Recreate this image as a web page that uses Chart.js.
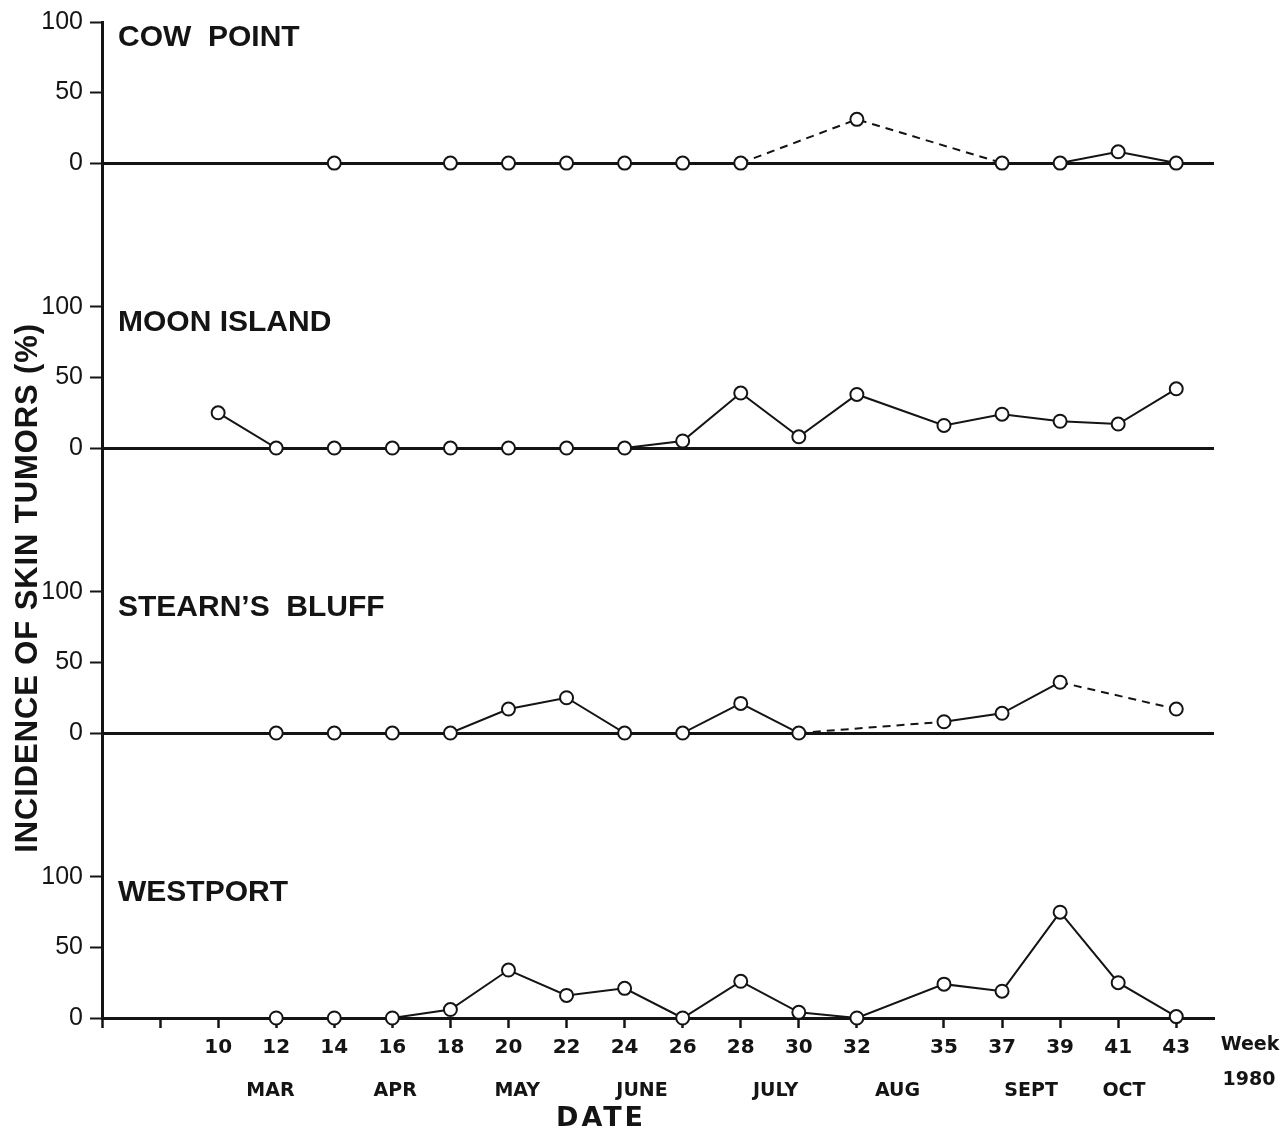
<!DOCTYPE html>
<html>
<head>
<meta charset="utf-8">
<title>Incidence of skin tumors, 1980</title>
<script src="https://cdn.jsdelivr.net/npm/chart.js@4.4.0/dist/chart.umd.min.js"></script>
<style>
  html, body { margin: 0; padding: 0; background: #fff; }
  #wrap { width: 1287px; height: 1133px; position: relative; }
</style>
</head>
<body>
<div id="wrap"><canvas id="chart"></canvas></div>
<script>
// Axis ticks (weeks 6 and 8 carry no label)
const weekTicks = [6, 8, 10, 12, 14, 16, 18, 20, 22, 24, 26, 28, 30, 32, 35, 37, 39, 41, 43];
const monthLabels = ['MAR', 'APR', 'MAY', 'JUNE', 'JULY', 'AUG', 'SEPT', 'OCT'];
const monthWeeks = [11.8, 16.1, 20.3, 24.6, 29.2, 33.4, 38.0, 41.2];
const yTicks = [0, 50, 100];

const panelNames = ['COW  POINT', 'MOON ISLAND', 'STEARN\u2019S  BLUFF', 'WESTPORT'];

// Incidence (%) per sampling week; *Dashed flags the segment starting at that point
const cowWeeks = [14, 18, 20, 22, 24, 26, 28, 32, 37, 39, 41, 43];
const cowValues = [0, 0, 0, 0, 0, 0, 0, 31, 0, 0, 8, 0];
const cowDashed = [0, 0, 0, 0, 0, 0, 1, 1, 0, 0, 0];

const moonWeeks = [10, 12, 14, 16, 18, 20, 22, 24, 26, 28, 30, 32, 35, 37, 39, 41, 43];
const moonValues = [25, 0, 0, 0, 0, 0, 0, 0, 5, 39, 8, 38, 16, 24, 19, 17, 42];
const moonDashed = [];

const stearnsWeeks = [12, 14, 16, 18, 20, 22, 24, 26, 28, 30, 35, 37, 39, 43];
const stearnsValues = [0, 0, 0, 0, 17, 25, 0, 0, 21, 0, 8, 14, 36, 17];
const stearnsDashed = [0, 0, 0, 0, 0, 0, 0, 0, 0, 1, 0, 0, 1];

const westWeeks = [12, 14, 16, 18, 20, 22, 24, 26, 28, 30, 32, 35, 37, 39, 41, 43];
const westValues = [0, 0, 0, 6, 34, 16, 21, 0, 26, 4, 0, 24, 19, 75, 25, 1];
const westDashed = [];

const INK = '#141414';
const panelIds = ['yCow', 'yMoon', 'yStearns', 'yWest'];
const weekMin = 6, weekMax = 44.3;

function makeDataset(weeks, values, dashed, axisId) {
    return {
        data: weeks.map((w, i) => ({ x: w, y: values[i] })),
        yAxisID: axisId,
        xAxisID: 'x',
        borderColor: INK,
        borderWidth: 2,
        tension: 0,
        fill: false,
        clip: false,
        pointRadius: 6.5,
        pointBorderWidth: 2,
        pointBackgroundColor: '#fff',
        pointBorderColor: INK,
        segment: {
            borderDash: ctx => dashed[ctx.p0DataIndex] ? [8, 6] : undefined
        }
    };
}

function panelAxis(min) {
    return {
        type: 'linear',
        position: 'left',
        stack: 'panels',
        stackWeight: 100 - min,
        min: min,
        max: 100,
        afterBuildTicks: s => { s.ticks = yTicks.map(v => ({ value: v })); },
        afterFit: s => { s.width = 102; },
        border: { color: INK, width: 3 },
        grid: {
            color: c => (c.tick && c.tick.value === 0) ? INK : 'rgba(0,0,0,0)',
            lineWidth: 3,
            tickColor: INK,
            tickWidth: 2,
            tickLength: 12,
            drawTicks: true
        },
        ticks: {
            color: INK,
            padding: 7,
            font: { family: '"Liberation Sans", Arial, sans-serif', size: 25 }
        }
    };
}

const textPlugin = {
    id: 'panelText',
    afterDraw(chart) {
        const ctx = chart.ctx;
        const area = chart.chartArea;
        ctx.save();
        ctx.fillStyle = INK;

        // station names, top-left of each panel
        ctx.font = 'bold 30px "Liberation Sans", Arial, sans-serif';
        ctx.textAlign = 'left';
        ctx.textBaseline = 'alphabetic';
        panelIds.forEach((id, i) => {
            const y = chart.scales[id].getPixelForValue(100);
            ctx.fillText(panelNames[i], area.left + 16, y + 24);
        });

        // shared y title
        ctx.save();
        ctx.translate(37, 323);
        ctx.rotate(-Math.PI / 2);
        ctx.textAlign = 'right';
        ctx.font = 'bold 31px "Liberation Sans", Arial, sans-serif';
        ctx.letterSpacing = '0.9px';
        ctx.fillText('INCIDENCE OF SKIN TUMORS (%)', 0, 0);
        ctx.restore();

        // x annotations
        ctx.textAlign = 'center';
        ctx.textBaseline = 'middle';
        ctx.font = 'bold 19px "DejaVu Sans", sans-serif';
        ctx.fillText('Week', 1250, 1045);
        ctx.fillText('1980', 1249, 1080);

        ctx.font = 'bold 27px "DejaVu Sans", sans-serif';
        ctx.letterSpacing = '3px';
        ctx.fillText('DATE', 601, 1119);
        ctx.restore();
    }
};

// left-stacked axes are laid out in reverse order, so the bottom panel is listed first
const scales = {
    x: {
        type: 'linear',
        position: 'bottom',
        min: weekMin,
        max: weekMax,
        afterBuildTicks: s => { s.ticks = weekTicks.map(v => ({ value: v })); },
        afterFit: s => { s.height = 48; },
        border: { color: INK, width: 3 },
        grid: { drawOnChartArea: false, drawTicks: true, tickLength: 10, tickColor: INK, tickWidth: 2.5 },
        ticks: {
            color: INK,
            autoSkip: false,
            maxRotation: 0,
            padding: 8,
            font: { family: '"DejaVu Sans", sans-serif', size: 20, weight: 'bold' },
            callback: v => v >= 10 ? String(v) : ''
        }
    },
    month: {
        type: 'linear',
        position: 'bottom',
        min: weekMin,
        max: weekMax,
        afterBuildTicks: s => { s.ticks = monthWeeks.map(v => ({ value: v })); },
        afterFit: s => { s.height = 67; },
        border: { display: false },
        grid: { display: false },
        ticks: {
            color: INK,
            autoSkip: false,
            maxRotation: 0,
            padding: 6,
            font: { family: '"DejaVu Sans", sans-serif', size: 19, weight: 'bold' },
            callback: (v, i) => monthLabels[i]
        }
    },
    yWest: panelAxis(0),
    yStearns: panelAxis(-102),
    yMoon: panelAxis(-102),
    yCow: panelAxis(-102)
};

new Chart(document.getElementById('chart'), {
    type: 'line',
    data: {
        datasets: [
            makeDataset(cowWeeks, cowValues, cowDashed, 'yCow'),
            makeDataset(moonWeeks, moonValues, moonDashed, 'yMoon'),
            makeDataset(stearnsWeeks, stearnsValues, stearnsDashed, 'yStearns'),
            makeDataset(westWeeks, westValues, westDashed, 'yWest')
        ]
    },
    options: {
        responsive: true,
        maintainAspectRatio: false,
        animation: false,
        devicePixelRatio: 1,
        layout: { padding: { top: 22, right: 73, bottom: 0, left: 0 } },
        plugins: { legend: { display: false }, tooltip: { enabled: false } },
        scales: scales
    },
    plugins: [textPlugin]
});
</script>
</body>
</html>
